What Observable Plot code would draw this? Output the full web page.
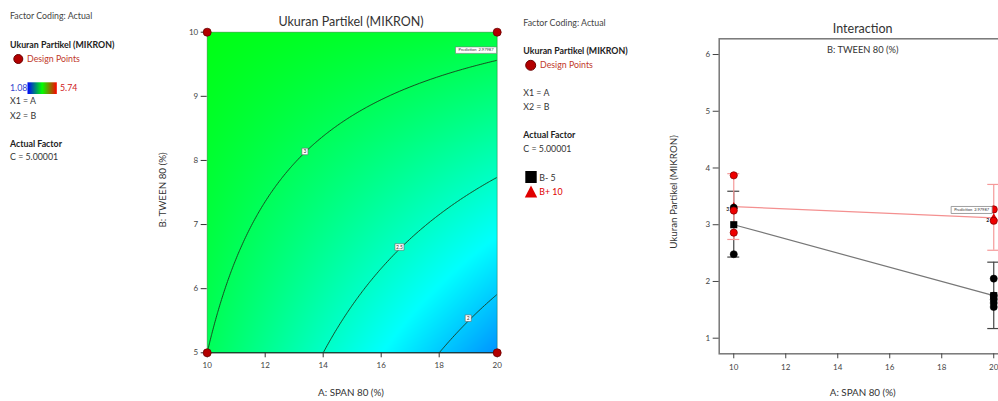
<!DOCTYPE html>
<html><head><meta charset="utf-8">
<script src="https://cdn.jsdelivr.net/npm/d3@7"></script>
<script src="https://cdn.jsdelivr.net/npm/@observablehq/plot@0.6"></script>
<style>
html,body{margin:0;padding:0;background:#fff;}
#wrap{position:relative;width:998px;height:401px;overflow:hidden;background:#fff;font-family:Lato,"Open Sans",sans-serif;}
#wrap > svg, #wrap > figure{position:absolute;top:0;margin:0;}
</style></head><body><div id="wrap"></div>
<script>
// ---------------- data ----------------
const spanLevels = [10, 20];          // A: SPAN 80 (%)
const tweenLevels = [5, 10];          // B: TWEEN 80 (%)
const predB5 = [3.00, 1.75];          // predicted size at B = 5
const predB10 = [3.32, 3.12];         // predicted size at B = 10
const lsdLowB5 = [2.43, 1.17];
const lsdHighB5 = [3.59, 2.34];
const lsdLowB10 = [2.74, 2.55];
const lsdHighB10 = [3.90, 3.71];
const actualB5Span = [10, 10, 20, 20, 20, 20, 20];
const actualB5Size = [2.48, 3.30, 2.05, 1.75, 1.68, 1.62, 1.55];
const actualB10Span = [10, 10, 10, 20, 20];
const actualB10Size = [3.87, 3.25, 2.86, 3.27, 3.07];
const contourLevels = [2, 2.5, 3];
const contourLabelSpan = [13.37, 16.63, 19.0];
const contourLabelTween = [8.14, 6.65, 5.54];
const contourLabelText = ["3", "2.5", "2"];
const designCounts = ["1", "1", "6", "4"];
const spanTicks = [10, 12, 14, 16, 18, 20];
const tweenTicks = [5, 6, 7, 8, 9, 10];
const sizeTicks = [1, 2, 3, 4, 5, 6];
const colorStops = [1.08, 2.245, 3.41, 4.575, 5.74];
const colorNames = ["#0000ff", "#00ffff", "#00ff00", "#ffff00", "#ff0000"];
const predictionText = "Prediction  2.97987";

// 2FI response surface built from the four predicted corner means
function predict(a, b) {
  const u = (a - spanLevels[0]) / (spanLevels[1] - spanLevels[0]);
  const v = (b - tweenLevels[0]) / (tweenLevels[1] - tweenLevels[0]);
  return predB5[0] * (1 - u) * (1 - v) + predB5[1] * u * (1 - v) + predB10[0] * (1 - u) * v + predB10[1] * u * v;
}
const rectSym = (w, h) => ({draw(ctx) { ctx.rect(-w / 2, -h / 2, w, h); }});
const fmt = d => String(d);

const wrap = document.getElementById("wrap");
const axisStyle = {fontFamily: "Lato, 'Open Sans', sans-serif", fontSize: "8px", color: "#444", background: "transparent", overflow: "visible"};

// ---------------- contour plot ----------------
const design = d3.cross(spanLevels, tweenLevels).map(([a, b]) => ({a, b}));
design.sort((p, q) => q.b - p.b || p.a - q.a);
design.forEach((d, i) => d.n = designCounts[i]);
const clabels = contourLabelText.map((t, i) => ({a: contourLabelSpan[i], b: contourLabelTween[i], t}));

const p1 = Plot.plot({
  width: 360, height: 401,
  marginLeft: 56.7, marginRight: 13.3, marginTop: 31.7, marginBottom: 48.7,
  style: axisStyle,
  x: {domain: [10, 20], label: null},
  y: {domain: [5, 10], label: null},
  color: {type: "linear", domain: colorStops, range: colorNames, interpolate: "rgb"},
  marks: [
    Plot.raster({fill: predict, x1: 10, x2: 20, y1: 5, y2: 10, pixelSize: 1}),
    Plot.contour({value: predict, x1: 9.5, x2: 20.5, y1: 4.75, y2: 10.25, thresholds: contourLevels, fill: "none", stroke: "#1a3a1a", strokeWidth: 0.9, clip: true}),
    Plot.frame({stroke: "#0a4a0a", strokeOpacity: 0.35}),
    Plot.ruleY([5], {stroke: "#111", strokeWidth: 1}),
    Plot.axisX({ticks: spanTicks, tickFormat: fmt, tickSize: 5, tickPadding: 5, label: null, stroke: "#333"}),
    Plot.axisY({ticks: tweenTicks, tickFormat: fmt, tickSize: 6, tickPadding: 3, label: null, stroke: "#333"}),
    Plot.dot(clabels, {x: "a", y: "b", symbol: d => d.t.length > 1 ? rectSym(9, 6.5) : rectSym(6, 6.5), r: 4, fill: "white", stroke: "#666", strokeWidth: 0.6}),
    Plot.text(clabels, {x: "a", y: "b", text: "t", fontSize: 5, fill: "#333"}),
    Plot.dot([{a: 19.27, b: 9.72}], {x: "a", y: "b", symbol: rectSym(41, 6.5), r: 4, fill: "white", stroke: "#777", strokeWidth: 0.6}),
    Plot.text([{a: 19.27, b: 9.72}], {x: "a", y: "b", text: () => predictionText, fontSize: 4, fill: "#333"}),
    Plot.text(design, {x: "a", y: "b", text: "n", fontSize: 4, fill: "#222", dx: d => d.a === 10 ? 4 : -4, dy: d => d.b === 10 ? 5 : -6}),
    Plot.dot(design, {x: "a", y: "b", r: 4, fill: "#b30000", stroke: "#6a0000", strokeWidth: 0.8})
  ]
});
p1.style.left = "150px";
wrap.appendChild(p1);

// ---------------- interaction plot ----------------
const capHalf = 0.23;
const bars = [];
spanLevels.forEach((a, i) => {
  bars.push({a, lo: lsdLowB5[i], hi: lsdHighB5[i], g: "B5"});
  bars.push({a, lo: lsdLowB10[i], hi: lsdHighB10[i], g: "B10"});
});
const caps = bars.flatMap(d => [{a: d.a, y: d.lo, g: d.g}, {a: d.a, y: d.hi, g: d.g}]);
const lineB5 = spanLevels.map((a, i) => ({a, y: predB5[i]}));
const lineB10 = spanLevels.map((a, i) => ({a, y: predB10[i]}));
const ptsB5 = actualB5Span.map((a, i) => ({a, y: actualB5Size[i]}));
const ptsB10 = actualB10Span.map((a, i) => ({a, y: actualB10Size[i]}));

const p2 = Plot.plot({
  width: 370, height: 401,
  marginLeft: 68.7, marginRight: 12.2, marginTop: 38.3, marginBottom: 47.7,
  style: axisStyle,
  x: {domain: [9.44, 20.56], label: null},
  y: {domain: [0.725, 6.277], label: null},
  marks: [
    Plot.frame({stroke: "#777", strokeWidth: 1.5}),
    Plot.axisX({ticks: spanTicks, tickFormat: fmt, tickSize: 5, tickPadding: 6, label: null, stroke: "#444"}),
    Plot.axisY({ticks: sizeTicks, tickFormat: fmt, tickSize: 6, tickPadding: 3, label: null, stroke: "#444"}),
    Plot.ruleX(bars.filter(d => d.g === "B5"), {x: "a", y1: "lo", y2: "hi", stroke: "#444", strokeWidth: 1.2}),
    Plot.ruleY(caps.filter(d => d.g === "B5"), {y: "y", x1: d => d.a - capHalf, x2: d => d.a + capHalf, stroke: "#444", strokeWidth: 1.2}),
    Plot.ruleX(bars.filter(d => d.g === "B10"), {x: "a", y1: "lo", y2: "hi", stroke: "#f59a9a", strokeWidth: 1.2}),
    Plot.ruleY(caps.filter(d => d.g === "B10"), {y: "y", x1: d => d.a - capHalf, x2: d => d.a + capHalf, stroke: "#f59a9a", strokeWidth: 1.2}),
    Plot.line(lineB5, {x: "a", y: "y", stroke: "#777", strokeWidth: 1.2}),
    Plot.line(lineB10, {x: "a", y: "y", stroke: "#f49090", strokeWidth: 1.2}),
    Plot.dot(lineB10, {x: "a", y: "y", symbol: "triangle", r: 3, fill: "#e00000"}),
    Plot.dot(ptsB5, {x: "a", y: "y", r: 3.6, fill: "#000", stroke: "#000", strokeWidth: 0.5}),
    Plot.dot(lineB5, {x: "a", y: "y", symbol: "square", r: 4, fill: "#000"}),
    Plot.dot(ptsB10, {x: "a", y: "y", r: 3.6, fill: "#ee0000", stroke: "#8a0000", strokeWidth: 0.8}),
    Plot.text([{a: 10, y: 3.27, t: "3"}, {a: 20, y: 3.07, t: "2"}], {x: "a", y: "y", text: "t", fontSize: 5, fontWeight: "bold", fill: "#222", dx: -6}),
    Plot.dot([{a: 19.15, y: 3.26}], {x: "a", y: "y", symbol: rectSym(41, 7), r: 4, fill: "white", stroke: "#888", strokeWidth: 0.8}),
    Plot.text([{a: 19.15, y: 3.26}], {x: "a", y: "y", text: () => predictionText, fontSize: 4, fill: "#333"})
  ]
});
p2.style.left = "650px";
wrap.appendChild(p2);

// ---------------- titles & legends (text overlay) ----------------
const ov = d3.select(wrap).append("svg").attr("width", 998).attr("height", 401)
  .style("left", "0px").style("pointer-events", "none")
  .attr("font-family", "Lato, 'Open Sans', sans-serif");
function txt(x, y, s, o = {}) {
  const t = ov.append("text").attr("x", x).attr("y", y).text(s)
    .attr("font-size", o.size || 8.8).attr("fill", o.fill || "#333")
    .attr("font-weight", o.bold ? "bold" : null).attr("text-anchor", o.anchor || "start");
  if (o.rot) t.attr("x", null).attr("y", null).attr("transform", `translate(${x},${y}) rotate(-90)`);
  return t;
}
const grad = ov.append("defs").append("linearGradient").attr("id", "cg");
[colorNames[0], colorNames[2], colorNames[4]].forEach((c, i) => grad.append("stop").attr("offset", i / 2).attr("stop-color", c));

// left legend
txt(10, 18.5, "Factor Coding: Actual", {fill: "#444"});
txt(10, 47.5, "Ukuran Partikel (MIKRON)", {bold: true, fill: "#222"});
ov.append("circle").attr("cx", 18.3).attr("cy", 59).attr("r", 4.5).attr("fill", "#b30000").attr("stroke", "#6a0000");
txt(27, 62, "Design Points", {fill: "#c0392b"});
txt(10, 91, String(colorStops[0]), {fill: "#3344cc"});
ov.append("rect").attr("x", 27.5).attr("y", 82.3).attr("width", 29.3).attr("height", 11.7).attr("fill", "url(#cg)");
txt(60, 91, String(colorStops[colorStops.length - 1]), {fill: "#d02020"});
txt(10, 104, "X1 = A");
txt(10, 119, "X2 = B");
txt(10, 147.3, "Actual Factor", {bold: true, fill: "#222"});
txt(10, 159.5, "C = 5.00001");

// middle legend
txt(523.3, 26, "Factor Coding: Actual", {fill: "#444"});
txt(523.3, 54, "Ukuran Partikel (MIKRON)", {bold: true, fill: "#222"});
ov.append("circle").attr("cx", 530.7).attr("cy", 65.3).attr("r", 5).attr("fill", "#b30000").attr("stroke", "#6a0000");
txt(540, 67.5, "Design Points", {fill: "#c0392b"});
txt(523.3, 96, "X1 = A");
txt(523.3, 110.3, "X2 = B");
txt(523.3, 138, "Actual Factor", {bold: true, fill: "#222"});
txt(523.3, 152, "C = 5.00001");
ov.append("rect").attr("x", 525.3).attr("y", 171).attr("width", 11.4).attr("height", 12).attr("fill", "#000");
txt(539.3, 181, "B- " + tweenLevels[0]);
ov.append("path").attr("d", "M531,185.5L524.8,197.5L537.2,197.5Z").attr("fill", "#e00000");
txt(539.3, 194.5, "B+ " + tweenLevels[1], {fill: "#e00000"});

// titles / axis titles
txt(351, 26, "Ukuran Partikel (MIKRON)", {size: 12.5, anchor: "middle", fill: "#333"});
txt(351, 396, "A: SPAN 80 (%)", {size: 9.8, anchor: "middle", fill: "#333"});
txt(165.5, 190, "B: TWEEN 80 (%)", {size: 9.8, anchor: "middle", fill: "#333", rot: true});
txt(862.7, 32.7, "Interaction", {size: 12.5, anchor: "middle", fill: "#333"});
txt(862.7, 53.3, "B: TWEEN 80 (%)", {size: 9.3, anchor: "middle", fill: "#333"});
txt(862.7, 396, "A: SPAN 80 (%)", {size: 9.8, anchor: "middle", fill: "#333"});
txt(677, 192, "Ukuran Partikel (MIKRON)", {size: 9.8, anchor: "middle", fill: "#333", rot: true});
</script></body></html>
